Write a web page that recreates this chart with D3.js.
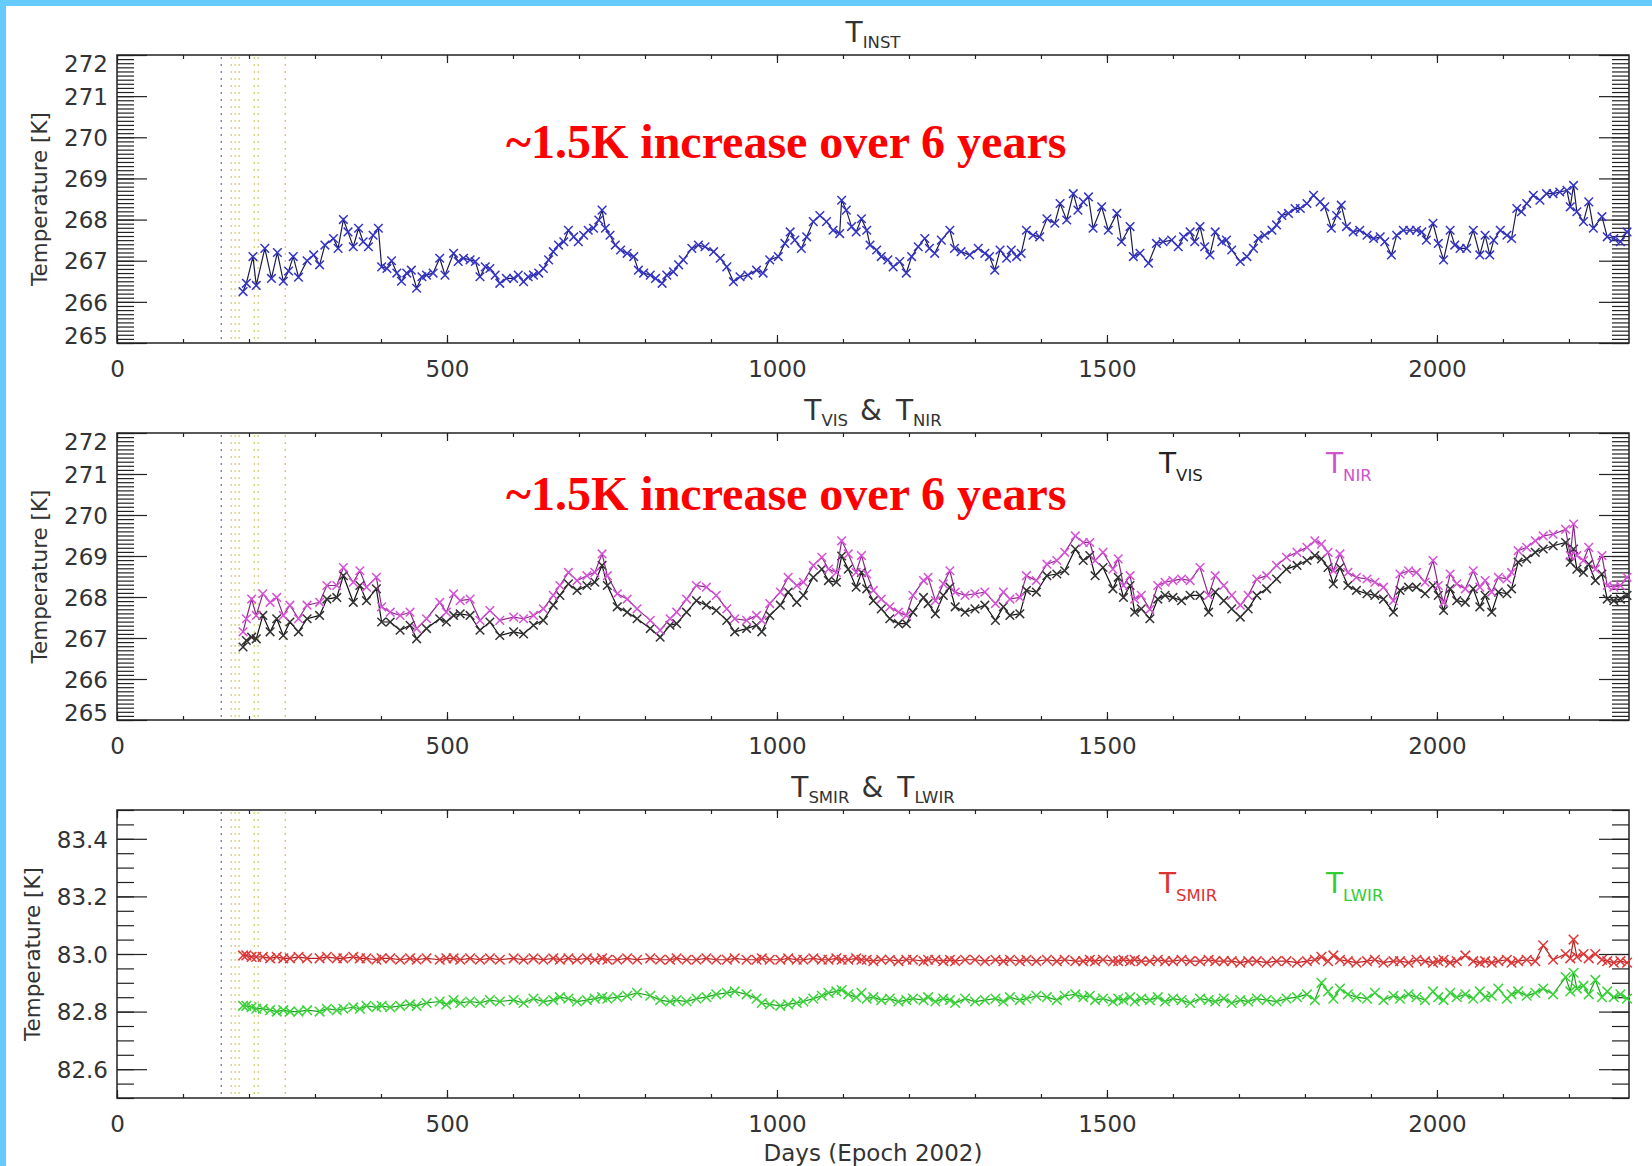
<!DOCTYPE html>
<html><head><meta charset="utf-8">
<script src="https://cdn.jsdelivr.net/npm/d3@7"></script>
<style>body{margin:0;background:#fff}svg{display:block}</style>
</head><body><svg id="c" width="1652" height="1166"></svg>
<script>
// ---------- DATA ----------
const instDays = [191,196,206,211,224,234,243,252,260,267,
275,288,298,307,315,328,335,343,350,358,
366,373,381,388,396,401,409,416,424,431,
439,446,454,462,469,479,489,497,510,517,
525,535,543,550,558,565,573,580,590,601,
608,616,623,631,639,646,654,661,669,677,
684,692,699,707,714,722,730,735,740,747,
755,763,773,783,790,798,808,816,826,833,
843,851,858,871,881,891,904,914,924,934,
944,956,969,979,989,1002,1012,1020,1027,1037,
1045,1055,1065,1075,1085,1095,1098,1105,1113,1120,
1128,1136,1141,1151,1158,1168,1176,1186,1196,1204,
1214,1224,1231,1239,1249,1262,1269,1279,1292,1305,
1315,1322,1330,1338,1348,1355,1363,1370,1378,1388,
1398,1409,1421,1429,1439,1449,1456,1464,1472,1479,
1492,1502,1515,1522,1535,1540,1550,1563,1575,1585,
1598,1608,1616,1626,1633,1641,1648,1656,1664,1674,
1681,1689,1702,1712,1722,1729,1739,1750,1757,1765,
1775,1785,1793,1803,1813,1823,1830,1840,1848,1855,
1863,1873,1883,1894,1904,1914,1921,1931,1939,1949,
1959,1969,1977,1984,1994,2002,2010,2020,2027,2035,
2045,2055,2065,2073,2080,2086,2096,2106,2113,2121,
2128,2136,2146,2156,2166,2176,2186,2197,2202,2207,
2212,2222,2230,2237,2250,2258,2268,2278,2288];
const instVals = [266.25,266.45,267.1,266.4,267.3,266.57,267.2,266.5,266.75,267.1,
266.6,267.0,267.14,266.9,267.38,267.54,267.3,268.0,267.7,267.34,
267.79,267.46,267.34,267.62,267.79,266.85,266.81,267.0,266.7,266.5,
266.7,266.77,266.33,266.61,266.65,266.7,267.06,266.65,267.18,266.98,
267.06,267.02,266.98,266.61,266.85,266.81,266.65,266.45,266.57,266.57,
266.65,266.49,266.61,266.65,266.7,266.81,267.02,267.22,267.38,267.46,
267.74,267.58,267.46,267.62,267.74,267.79,267.99,268.23,267.79,267.62,
267.38,267.26,267.18,267.1,266.77,266.7,266.65,266.57,266.45,266.65,
266.73,266.9,267.02,267.3,267.38,267.34,267.22,267.06,266.85,266.49,
266.61,266.65,266.77,266.7,267.02,267.1,267.42,267.7,267.5,267.3,
267.58,267.95,268.1,267.95,267.74,267.66,268.47,268.23,267.83,267.7,
268.02,267.74,267.38,267.26,267.1,267.02,266.85,266.98,266.7,267.1,
267.34,267.54,267.3,267.18,267.5,267.74,267.3,267.22,267.14,267.3,
267.18,267.1,266.77,267.26,267.06,267.26,267.1,267.18,267.74,267.62,
267.58,268.02,267.91,268.39,267.99,268.63,268.23,268.43,268.55,267.79,
268.31,267.74,268.15,267.46,267.83,267.1,267.18,266.94,267.42,267.46,
267.5,267.34,267.58,267.7,267.46,267.83,267.34,267.14,267.7,267.46,
267.5,267.26,266.98,267.1,267.3,267.54,267.62,267.74,267.87,268.1,
268.15,268.27,268.27,268.39,268.59,268.43,268.31,267.79,268.1,268.35,
267.83,267.7,267.74,267.62,267.54,267.58,267.46,267.14,267.62,267.74,
267.74,267.74,267.7,267.5,267.91,267.42,267.02,267.74,267.38,267.3,
267.3,267.74,267.14,267.62,267.14,267.5,267.74,267.62,267.54,268.27,
268.19,268.39,268.59,268.47,268.63,268.63,268.67,268.71,268.31,268.83,
268.19,267.95,268.43,267.79,268.07,267.58,267.54,267.46,267.7];

const visDays = [191,196,204,211,221,232,242,252,262,275,
288,307,318,333,343,358,368,378,393,401,
414,429,444,454,469,489,499,510,520,535,
550,565,580,601,616,631,646,661,671,684,
697,712,724,735,743,758,773,788,808,823,
838,848,863,878,893,908,924,936,954,969,
977,989,1005,1017,1030,1040,1055,1068,1078,1090,
1098,1108,1120,1128,1136,1146,1158,1171,1184,1196,
1206,1222,1229,1240,1252,1262,1270,1285,1300,1315,
1331,1343,1353,1368,1378,1393,1409,1424,1436,1452,
1464,1474,1482,1494,1509,1517,1525,1535,1542,1552,
1565,1577,1588,1600,1613,1626,1641,1654,1664,1677,
1689,1702,1714,1727,1742,1757,1772,1788,1803,1815,
1825,1835,1843,1853,1865,1878,1894,1906,1919,1934,
1944,1957,1969,1982,1994,2002,2010,2020,2030,2043,
2055,2065,2073,2083,2093,2106,2113,2123,2136,2149,
2161,2176,2195,2202,2207,2212,2222,2230,2240,2250,
2258,2268,2278,2288];
const visVals = [266.78,266.94,267.02,266.98,267.55,267.15,267.47,267.06,267.39,267.15,
267.47,267.55,267.95,267.99,268.52,267.87,268.28,267.91,268.20,267.39,
267.39,267.19,267.31,266.98,267.23,267.47,267.39,267.55,267.59,267.55,
267.19,267.39,267.06,267.15,267.10,267.31,267.43,267.80,268.04,268.32,
268.16,268.28,268.36,268.77,268.28,267.76,267.63,267.47,267.23,267.02,
267.31,267.35,267.63,267.91,267.80,267.67,267.43,267.15,267.23,267.31,
267.15,267.55,267.80,268.12,267.87,268.04,268.48,268.68,268.40,268.36,
269.00,268.68,268.24,268.60,268.20,267.91,267.71,267.47,267.35,267.35,
267.63,267.99,267.84,267.59,268.04,268.24,267.76,267.63,267.71,267.80,
267.43,267.76,267.55,267.59,268.16,268.12,268.52,268.56,268.64,269.17,
268.89,269.01,268.52,268.72,268.20,268.48,267.99,268.28,267.63,267.71,
267.47,267.95,268.04,267.99,267.91,268.04,268.04,267.63,268.12,267.91,
267.71,267.51,267.71,268.04,268.20,268.44,268.68,268.77,268.89,269.01,
268.93,268.72,268.32,268.72,268.28,268.16,268.08,268.04,267.95,267.63,
268.16,268.24,268.24,268.08,268.28,268.04,267.67,268.20,267.91,267.87,
268.20,267.76,268.04,267.63,268.12,268.08,268.20,268.85,268.93,269.09,
269.17,269.25,269.33,268.85,269.17,268.68,268.60,268.80,268.40,268.56,
267.95,267.91,267.95,268.04];
const nirVals = [267.15,267.47,267.95,267.55,268.08,267.87,267.99,267.55,267.80,267.47,
267.80,267.87,268.28,268.28,268.72,268.36,268.64,268.24,268.48,267.76,
267.63,267.55,267.63,267.23,267.47,267.87,267.63,268.08,267.91,267.95,
267.43,267.67,267.43,267.51,267.47,267.55,267.71,268.04,268.28,268.60,
268.40,268.52,268.60,269.05,268.52,268.08,267.95,267.71,267.43,267.19,
267.47,267.63,267.95,268.28,268.24,268.04,267.71,267.47,267.43,267.55,
267.43,267.84,268.12,268.48,268.28,268.36,268.77,268.97,268.68,268.60,
269.37,269.05,268.60,269.01,268.56,268.16,267.95,267.76,267.63,267.55,
268.04,268.40,268.48,267.91,268.32,268.64,268.12,268.04,268.08,268.12,
267.84,268.12,267.95,267.99,268.52,268.40,268.80,268.89,269.09,269.49,
269.33,269.33,268.89,269.09,268.68,268.93,268.28,268.52,267.95,268.04,
267.70,268.28,268.36,268.40,268.44,268.40,268.72,268.04,268.52,268.28,
268.04,267.80,268.04,268.44,268.52,268.77,268.97,269.09,269.21,269.37,
269.29,269.09,268.64,269.05,268.60,268.48,268.44,268.36,268.24,267.91,
268.56,268.64,268.60,268.36,268.89,268.28,267.87,268.56,268.32,268.20,
268.64,268.24,268.40,268.12,268.48,268.44,268.60,269.13,269.21,269.37,
269.49,269.53,269.65,269.01,269.78,269.01,268.89,269.21,268.68,269.01,
268.28,268.24,268.28,268.48];
// focal-plane temperatures, sampled on visDays
const smirVals = [82.995,82.995,82.99,82.99,82.99,82.985,82.99,82.985,82.985,82.99,
82.985,82.985,82.99,82.985,82.985,82.99,82.985,82.985,82.98,82.985,
82.985,82.98,82.985,82.98,82.985,82.98,82.985,82.985,82.98,82.985,
82.98,82.985,82.98,82.985,82.98,82.985,82.98,82.985,82.98,82.985,
82.98,82.985,82.98,82.985,82.98,82.98,82.985,82.98,82.985,82.98,
82.98,82.985,82.98,82.98,82.985,82.98,82.98,82.985,82.98,82.98,
82.985,82.98,82.98,82.985,82.98,82.98,82.985,82.98,82.98,82.985,
82.98,82.98,82.985,82.98,82.98,82.975,82.98,82.98,82.975,82.98,
82.98,82.975,82.98,82.98,82.975,82.98,82.975,82.98,82.98,82.975,
82.98,82.975,82.98,82.975,82.98,82.975,82.98,82.975,82.98,82.975,
82.975,82.98,82.975,82.98,82.975,82.975,82.98,82.975,82.98,82.975,
82.975,82.98,82.975,82.975,82.98,82.975,82.975,82.98,82.975,82.975,
82.975,82.97,82.975,82.975,82.97,82.975,82.975,82.97,82.975,82.98,
82.99,82.975,82.995,82.98,82.975,82.97,82.975,82.98,82.97,82.975,
82.975,82.97,82.98,82.975,82.97,82.975,82.98,82.97,82.975,82.995,
82.975,82.97,82.975,82.97,82.975,82.98,82.97,82.975,82.98,82.975,
83.03,82.98,83.0,82.985,83.05,82.99,83.0,82.985,83.0,82.98,
82.975,82.97,82.975,82.97];
const lwirVals = [82.82,82.82,82.815,82.81,82.81,82.805,82.80,82.805,82.80,82.80,
82.805,82.80,82.81,82.805,82.81,82.815,82.81,82.82,82.815,82.82,
82.815,82.82,82.825,82.82,82.83,82.835,82.825,82.84,82.83,82.835,
82.83,82.84,82.835,82.84,82.83,82.845,82.835,82.84,82.85,82.845,
82.835,82.84,82.845,82.85,82.845,82.85,82.855,82.865,82.855,82.84,
82.835,82.84,82.835,82.845,82.85,82.86,82.865,82.87,82.86,82.845,
82.83,82.825,82.82,82.825,82.83,82.835,82.845,82.855,82.865,82.87,
82.875,82.86,82.85,82.865,82.845,82.85,82.84,82.845,82.835,82.84,
82.845,82.84,82.85,82.835,82.845,82.84,82.83,82.845,82.835,82.84,
82.845,82.835,82.85,82.84,82.845,82.855,82.85,82.84,82.855,82.86,
82.85,82.855,82.84,82.845,82.835,82.845,82.84,82.85,82.835,82.845,
82.84,82.85,82.835,82.845,82.84,82.83,82.845,82.84,82.835,82.845,
82.83,82.84,82.835,82.845,82.84,82.835,82.845,82.85,82.86,82.84,
82.90,82.87,82.845,82.88,82.86,82.85,82.845,82.865,82.84,82.855,
82.845,82.86,82.85,82.84,82.87,82.85,82.84,82.865,82.85,82.86,
82.845,82.87,82.85,82.855,82.88,82.845,82.86,82.87,82.855,82.865,
82.88,82.86,82.92,82.87,82.935,82.88,82.89,82.86,82.91,82.85,
82.87,82.85,82.86,82.845];

const xMajorTicks = [0, 500, 1000, 1500, 2000];
const xTickLabels = ["0", "500", "1000", "1500", "2000"];
const tempTicks = [265, 266, 267, 268, 269, 270, 271, 272];
const tempTickLabels = ["265", "266", "267", "268", "269", "270", "271", "272"];
const fpaTicks = [82.6, 82.8, 83.0, 83.2, 83.4];
const fpaTickLabels = ["82.6", "82.8", "83.0", "83.2", "83.4"];
const eventDays = [158, 173, 179, 185, 208, 214, 255];
const annotation = "~1.5K increase over 6 years";

// ---------- DRAWING ----------
const svg = d3.select("#c");
const L = 117, R = 1629;
const x = d3.scaleLinear().domain([0, 2291]).range([L, R]);
const SANS = "DejaVu Sans";
const TXT = "#333";

svg.append("rect").attr("width", 1652).attr("height", 1166).attr("fill", "#fff");
svg.append("rect").attr("x", 0).attr("y", 0).attr("width", 6).attr("height", 1166).attr("fill", "#66ccff");
svg.append("rect").attr("x", 0).attr("y", 0).attr("width", 1652).attr("height", 6).attr("fill", "#66ccff");

function xMark(r) { return `M${-r},${-r}L${r},${r}M${-r},${r}L${r},${-r}`; }

function drawPanel(p) {
  const y = d3.scaleLinear().domain(p.dom).range([p.bottom, p.top]);
  const g = svg.append("g");
  eventDays.forEach((d, i) => {
    g.append("line").attr("x1", x(d)).attr("x2", x(d)).attr("y1", p.top + 2).attr("y2", p.bottom - 2)
      .attr("stroke", i === 0 ? "#7b7fb0" : (i === 6 ? "#e0c27a" : "#d9d27e"))
      .attr("stroke-width", 1.4).attr("stroke-dasharray", "2,5");
  });
  const ax = (axis, tx, ty) => {
    const a = g.append("g").attr("transform", `translate(${tx},${ty})`).call(axis);
    a.select(".domain").remove();
    a.selectAll("line").attr("stroke", "#222").attr("stroke-width", 1.2);
    a.selectAll("text").attr("fill", TXT).style("font-family", SANS).style("font-size", "23px");
    return a;
  };
  const minorX = d3.range(0, 2291, 100);
  ax(d3.axisBottom(x).tickValues(minorX).tickSize(-4).tickFormat(""), 0, p.bottom);
  ax(d3.axisTop(x).tickValues(minorX).tickSize(-4).tickFormat(""), 0, p.top);
  const xb = ax(d3.axisBottom(x).tickValues(xMajorTicks).tickSize(-8).tickFormat((d, i) => xTickLabels[i]), 0, p.bottom);
  xb.selectAll("text").attr("y", 26).attr("dy", "0.35em");
  ax(d3.axisTop(x).tickValues(xMajorTicks).tickSize(-8).tickFormat(""), 0, p.top);

  ax(d3.axisLeft(y).tickValues(p.minor).tickSize(-17).tickFormat(""), L, 0);
  ax(d3.axisRight(y).tickValues(p.minor).tickSize(-17).tickFormat(""), R, 0);
  const yl = ax(d3.axisLeft(y).tickValues(p.major).tickSize(-30).tickPadding(9).tickFormat((d, i) => p.labels[i]), L, 0);
  yl.selectAll("text").attr("dy", (d) => d === p.dom[1] ? "0.72em" : (d === p.dom[0] ? "0.02em" : "0.36em"));
  ax(d3.axisRight(y).tickValues(p.major).tickSize(-30).tickFormat(""), R, 0);

  g.append("rect").attr("x", L).attr("y", p.top).attr("width", R - L).attr("height", p.bottom - p.top)
    .attr("fill", "none").attr("stroke", "#222").attr("stroke-width", 1.5);

  g.append("text").attr("transform", `translate(${p.ylabX},${(p.top + p.bottom) / 2}) rotate(-90)`)
    .attr("text-anchor", "middle").attr("dominant-baseline", "central")
    .style("font-family", SANS).style("font-size", "21.5px").attr("fill", TXT)
    .text("Temperature [K]");
  return { g, y };
}

function series(g, y, days, vals, lineColor, markColor, r, lw) {
  const n = Math.min(days.length, vals.length);
  const pts = d3.range(n).map(i => [days[i], vals[i]]);
  g.append("path").datum(pts)
    .attr("d", d3.line().x(d => x(d[0])).y(d => y(d[1])))
    .attr("fill", "none").attr("stroke", lineColor).attr("stroke-width", 1.2);
  g.append("g").selectAll("path").data(pts).enter().append("path")
    .attr("d", xMark(r))
    .attr("transform", d => `translate(${x(d[0])},${y(d[1])})`)
    .attr("fill", "none").attr("stroke", markColor).attr("stroke-width", lw);
}

function subText(px, py, parts, anchor, color, big, small, drop) {
  const t = svg.append("text").attr("x", px).attr("y", py).attr("text-anchor", anchor)
    .style("font-family", SANS).attr("fill", color);
  let sub = false;
  parts.forEach(pt => {
    const s = t.append("tspan").text(pt.t);
    if (pt.sub) { s.style("font-size", small + "px").attr("dy", sub ? 0 : drop); sub = true; }
    else { s.style("font-size", big + "px").attr("dy", sub ? -drop : 0); sub = false; }
    if (pt.dx) s.attr("dx", pt.dx);
  });
  return t;
}

const tempMinor = d3.range(265, 272.0001, 0.1);
const fpaMinor = d3.range(82.5, 83.5001, 0.05);

const p1 = drawPanel({ top: 55, bottom: 343, dom: [265, 272], major: tempTicks, labels: tempTickLabels, minor: tempMinor, ylabX: 39 });
series(p1.g, p1.y, instDays, instVals, "#1c1c4c", "#3434c8", 4.3, 1.5);

const p2 = drawPanel({ top: 433, bottom: 720, dom: [265, 272], major: tempTicks, labels: tempTickLabels, minor: tempMinor, ylabX: 39 });
series(p2.g, p2.y, visDays, visVals, "#111", "#333", 4.3, 1.5);
series(p2.g, p2.y, visDays, nirVals, "#8a2a8a", "#d652d6", 4.3, 1.5);

const p3 = drawPanel({ top: 810, bottom: 1098, dom: [82.5, 83.5], major: fpaTicks, labels: fpaTickLabels, minor: fpaMinor, ylabX: 32 });
series(p3.g, p3.y, visDays, smirVals, "#b02020", "#e03838", 4.8, 1.5);
series(p3.g, p3.y, visDays, lwirVals, "#20a020", "#3ad43a", 4.8, 1.5);

// titles
subText(873, 42, [{ t: "T" }, { t: "INST", sub: true }], "middle", TXT, 28, 16.5, 6);
subText(873, 420, [{ t: "T" }, { t: "VIS", sub: true }, { t: "&", dx: 12 }, { t: "T", dx: 14 }, { t: "NIR", sub: true }], "middle", TXT, 28, 16.5, 6);
subText(873, 797, [{ t: "T" }, { t: "SMIR", sub: true }, { t: "&", dx: 12 }, { t: "T", dx: 14 }, { t: "LWIR", sub: true }], "middle", TXT, 28, 16.5, 6);

// legends
subText(1159, 473, [{ t: "T" }, { t: "VIS", sub: true }], "start", "#222", 28, 16.5, 8);
subText(1326, 473, [{ t: "T" }, { t: "NIR", sub: true }], "start", "#cc55cc", 28, 16.5, 8);
subText(1159, 893, [{ t: "T" }, { t: "SMIR", sub: true }], "start", "#dd3333", 28, 16.5, 8);
subText(1326, 893, [{ t: "T" }, { t: "LWIR", sub: true }], "start", "#33cc33", 28, 16.5, 8);

// annotations
[158, 510].forEach(yy => {
  svg.append("text").attr("x", 506).attr("y", yy)
    .style("font-family", "Liberation Serif, Times New Roman, serif").style("font-weight", "bold")
    .style("font-size", "48px").attr("fill", "#ff0000").text(annotation);
});

// x axis title
svg.append("text").attr("x", 873).attr("y", 1153).attr("text-anchor", "middle").attr("dominant-baseline", "central")
  .style("font-family", SANS).style("font-size", "23px").attr("fill", TXT).text("Days (Epoch 2002)");
</script>
</body></html>
